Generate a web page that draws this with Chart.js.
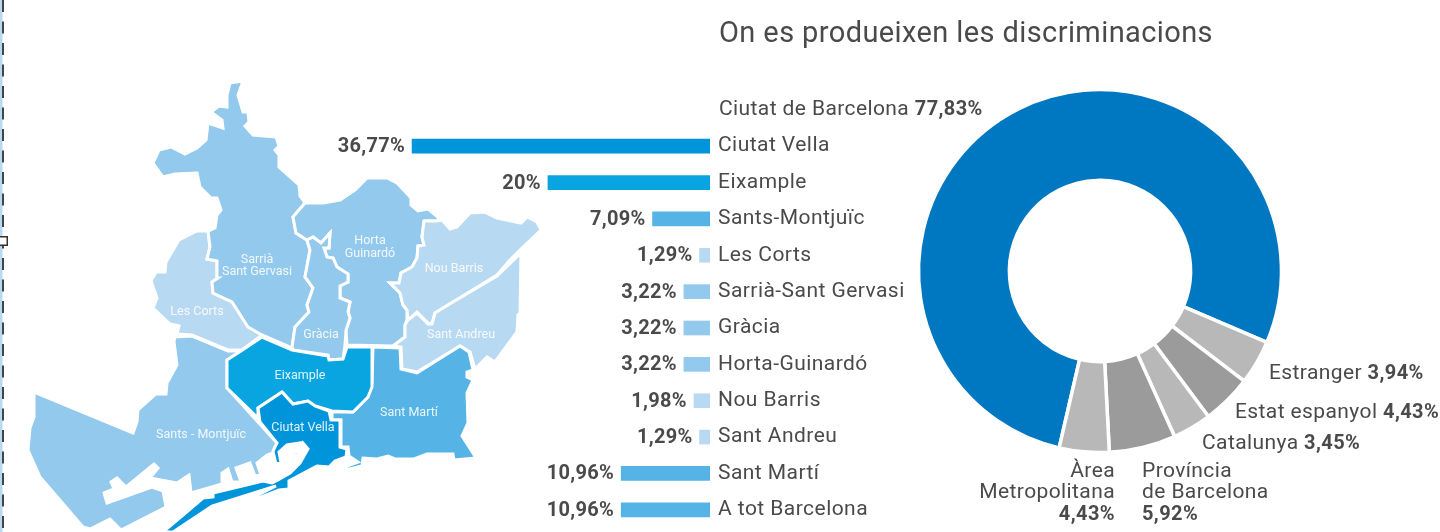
<!DOCTYPE html>
<html lang="ca"><head><meta charset="utf-8">
<script src="https://cdn.jsdelivr.net/npm/chart.js@4"></script>
<style>
html,body{margin:0;padding:0;background:#fff;overflow:hidden}
canvas{position:absolute;display:block}
</style></head><body>
<canvas id="map" width="1440" height="532" style="left:0;top:0"></canvas>
<canvas id="bars" width="610" height="400" style="left:300px;top:128px"></canvas>
<canvas id="donut" width="1440" height="532" style="left:0;top:0"></canvas>
<script>
const titleText = "On es produeixen les discriminacions";
const barCategories = ["Ciutat Vella","Eixample","Sants-Montjuïc","Les Corts","Sarrià-Sant Gervasi","Gràcia","Horta-Guinardó","Nou Barris","Sant Andreu","Sant Martí","A tot Barcelona"];
const barValues = [36.77,20,7.09,1.29,3.22,3.22,3.22,1.98,1.29,10.96,10.96];
const C_CV="#0095da",C_EX="#09a5e0",C_MID="#55b3e6",C_SOFT="#93c9ed",C_PALE="#b8d9f2";
const barColors = [C_CV,C_EX,C_MID,C_PALE,C_SOFT,C_SOFT,C_SOFT,C_PALE,C_PALE,C_MID,C_MID];
const donutLabels = ["Ciutat de Barcelona","Estranger","Estat espanyol","Catalunya","Província de Barcelona","Àrea Metropolitana"];
const donutValues = [77.83,3.94,4.43,3.45,5.92,4.43];
const donutColors = ["#0078c1","#b8b8b8","#9b9b9b","#b8b8b8","#9b9b9b","#b8b8b8"];

const mapSarria=[[230,83],[243,81],[238,95],[243,112],[248,112],[249,122],[245,126],[253,135],[276,137],[279,146],[275,150],[279,155],[279,167],[299,185],[300,196],[305,203],[293,217],[296,233],[307,240],[310,250],[305,277],[313,288],[307,305],[309,312],[295,327],[292,348],[262,335],[248,327],[232,302],[213,293],[212,282],[218,278],[217,261],[207,259],[210,247],[208,231],[215,228],[217,215],[221,210],[217,198],[211,198],[200,187],[197,173],[175,174],[163,177],[153,163],[159,150],[171,147],[185,154],[197,148],[206,140],[208,123],[223,128],[222,120],[211,112],[219,106],[227,107],[227,95]];
const mapCorts=[[208,231],[197,231],[179,240],[166,262],[165,272],[156,272],[151,281],[157,298],[153,308],[170,324],[179,326],[177,334],[192,335],[228,350],[242,350],[262,335],[248,327],[232,302],[213,293],[212,282],[218,278],[217,261],[207,259],[210,247]];
const mapSants=[[175,337],[192,336],[228,351],[241,351],[227,360],[227,388],[277,443],[273,453],[267,455],[257,463],[261,475],[255,476],[250,463],[236,468],[241,482],[232,482],[228,469],[222,473],[222,484],[191,493],[189,475],[177,483],[150,478],[158,468],[154,464],[126,487],[117,478],[111,482],[114,489],[104,493],[107,503],[152,487],[163,491],[166,507],[121,530],[110,519],[90,529],[83,527],[40,477],[28,450],[30,428],[34,417],[34,392],[133,433],[137,422],[138,410],[156,394],[166,394],[167,383],[177,365],[174,342]];
const mapEixample=[[262,337],[292,350],[328,356],[329,360],[343,359],[347,347],[372,347],[372,387],[368,397],[353,412],[332,411],[315,406],[308,401],[293,404],[282,392],[258,408],[258,418],[227,388],[227,360],[241,351]];
const mapCiutatVella=[[282,392],[293,404],[308,401],[315,406],[329,411],[331,420],[340,420],[340,447],[347,449],[346,457],[335,461],[329,467],[317,466],[289,481],[289,489],[279,490],[251,501],[250,499],[276,486],[212,506],[173,532],[163,532],[189,510],[203,498],[213,497],[213,493],[263,481],[272,483],[278,480],[290,473],[300,463],[308,449],[303,443],[298,455],[288,456],[288,453],[296,452],[300,443],[287,445],[279,452],[281,463],[276,464],[273,451],[277,443],[260,422],[258,408]];
const mapGracia=[[307,240],[313,237],[321,243],[330,233],[329,248],[324,248],[327,257],[333,258],[337,267],[348,274],[348,282],[340,286],[340,298],[350,302],[348,312],[350,318],[346,330],[345,345],[343,359],[329,360],[328,355],[293,350],[292,347],[295,327],[309,312],[307,305],[313,288],[305,277],[310,250]];
const mapHorta=[[305,203],[323,203],[340,200],[355,190],[367,178],[387,178],[397,183],[411,198],[411,205],[418,211],[428,209],[439,218],[437,221],[424,221],[422,237],[424,245],[418,246],[417,258],[412,267],[401,273],[399,283],[390,283],[400,293],[403,305],[407,310],[407,320],[405,325],[405,337],[393,346],[347,345],[346,330],[350,318],[348,312],[350,302],[340,298],[340,286],[348,282],[348,274],[337,267],[333,258],[327,257],[324,248],[329,248],[330,233],[321,243],[313,237],[307,240],[296,233],[293,217]];
const mapNouBarris=[[424,221],[437,221],[442,220],[450,229],[457,227],[470,213],[484,212],[497,218],[521,223],[527,217],[537,222],[541,230],[522,248],[510,260],[497,275],[453,302],[435,313],[432,324],[428,323],[417,312],[408,320],[407,310],[403,305],[400,293],[390,283],[399,283],[401,273],[412,267],[417,258],[418,246],[424,245],[422,237]];
const mapSantAndreu=[[417,313],[428,324],[432,324],[435,313],[453,302],[497,276],[521,253],[520,313],[518,315],[517,332],[495,362],[487,357],[475,369],[470,352],[460,346],[417,372],[402,369],[401,347],[393,346],[405,337],[405,325],[408,320]];
const mapSantMarti=[[373,347],[400,348],[401,369],[417,373],[460,346],[469,352],[473,370],[467,372],[467,377],[473,380],[467,393],[468,423],[462,436],[476,458],[454,460],[453,454],[427,454],[414,459],[395,459],[388,456],[377,459],[363,458],[362,466],[345,470],[347,466],[358,462],[349,456],[348,447],[341,447],[341,420],[332,420],[332,412],[353,412],[368,397],[368,387],[372,383]];
const mapNames=[["Sarrià",257,260],["Sant Gervasi",257,272],["Les Corts",197,312],["Gràcia",321,335],["Horta",370,241],["Guinardó",370,254],["Nou Barris",454,269],["Sant Andreu",461,335],["Eixample",300,376],["Sants - Montjuïc",201,435],["Ciutat Vella",303,428],["Sant Martí",409,413]];
const cropEdge=[[1,0],[1,532]], foldEdge=[[3,0],[3,532]], foldMark=[[3,241]];

const FONT='Roboto, "Liberation Sans", sans-serif', INK="#4a4a4a";
function pct(v){return String(v).replace('.',',')+'%';}
function poly(pts,color){
  return {data:pts.concat([pts[0]]).map(p=>({x:p[0],y:p[1]})),backgroundColor:color,borderColor:"#fff",borderWidth:3,
    fill:'shape',showLine:true,tension:0,pointRadius:0,borderJoinStyle:'miter',clip:false};
}
const regions=[[mapSants,C_SOFT],[mapCorts,C_PALE],[mapSarria,C_SOFT],[mapHorta,C_SOFT],[mapGracia,C_SOFT],[mapNouBarris,C_PALE],[mapSantAndreu,C_PALE],[mapSantMarti,C_MID],[mapEixample,C_EX],[mapCiutatVella,C_CV]];
const mapSets=regions.map((r,i)=>Object.assign(poly(r[0],r[1]),{order:100-i}));
mapSets.push({data:cropEdge.map(p=>({x:p[0],y:p[1]})),showLine:true,borderColor:C_PALE,borderWidth:3,pointRadius:0,order:5,clip:false});
mapSets.push({data:foldEdge.map(p=>({x:p[0],y:p[1]})),showLine:true,borderColor:"#444",borderWidth:2,borderDash:[12,9.5],pointRadius:0,order:4,clip:false});
mapSets.push({data:foldMark.map(p=>({x:p[0],y:p[1]})),showLine:false,pointStyle:'rect',pointRadius:6,backgroundColor:"#fff",borderColor:"#333",pointBorderWidth:1.5,order:3,clip:false});

new Chart(document.getElementById('map'),{type:'scatter',data:{datasets:mapSets},
 options:{responsive:false,animation:false,devicePixelRatio:1,layout:{padding:0,autoPadding:false},
  plugins:{legend:{display:false},tooltip:{enabled:false}},
  scales:{x:{type:'linear',min:0,max:1440,display:false},y:{type:'linear',min:0,max:532,reverse:true,display:false}}},
 plugins:[{id:'mapNames',afterDraw(c){const x=c.ctx;x.save();x.fillStyle="rgba(255,255,255,.88)";x.font='12.5px '+FONT;x.textAlign='center';x.textBaseline='middle';
   mapNames.forEach(n=>x.fillText(n[0],n[1],n[2]));x.restore();}}]
});

new Chart(document.getElementById('bars'),{type:'bar',
 data:{labels:barCategories,datasets:[{data:barValues,backgroundColor:barColors,barThickness:14,borderWidth:0}]},
 options:{indexAxis:'y',responsive:false,animation:false,devicePixelRatio:1,layout:{padding:0,autoPadding:false},
  plugins:{legend:{display:false},tooltip:{enabled:false}},
  scales:{x:{type:'linear',reverse:true,min:0,max:50.6,display:false},
   y:{position:'right',afterFit(s){s.width=200;s.paddingTop=0;s.paddingBottom=0;},grid:{display:false,drawTicks:false},border:{display:false},
      ticks:{padding:8,color:INK,font:{family:FONT,size:21},autoSkip:false,crossAlign:'near'}}}},
 plugins:[{id:'spacing',beforeDraw(c){c.ctx.letterSpacing='0.45px';}},
  {id:'barVals',afterDatasetsDraw(c){const x=c.ctx;x.save();x.fillStyle=INK;x.letterSpacing='0.3px';x.font='bold 20px '+FONT;x.textAlign='right';x.textBaseline='middle';
   c.getDatasetMeta(0).data.forEach((el,i)=>x.fillText(pct(barValues[i]),el.x-7,el.y+1));x.restore();}}]
});

function mixed(x,parts,px,y,align){
  x.textBaseline='middle';x.textAlign='left';
  const fonts=parts.map(p=>(p.b?'bold 20px ':'21px ')+FONT);
  let w=0;parts.forEach((p,i)=>{x.font=fonts[i];w+=x.measureText(p.t).width;});
  let cx=align==='right'?px-w:px;
  parts.forEach((p,i)=>{x.font=fonts[i];x.fillText(p.t,cx,y);cx+=x.measureText(p.t).width;});
}
new Chart(document.getElementById('donut'),{type:'doughnut',
 data:{labels:donutLabels,datasets:[{data:donutValues,backgroundColor:donutColors,borderColor:"#fff",borderWidth:3.5,hoverOffset:0}]},
 options:{responsive:false,animation:false,devicePixelRatio:1,rotation:193,radius:181.5,cutout:99,
  layout:{padding:{left:900,right:140,top:71,bottom:61}},
  plugins:{legend:{display:false},tooltip:{enabled:false}}},
 plugins:[{id:'donutText',afterDraw(c){const x=c.ctx;x.save();x.fillStyle=INK;x.letterSpacing='0.4px';
   x.font='29px '+FONT;x.textAlign='left';x.textBaseline='middle';x.fillText(titleText,719,35);
   const L=donutLabels,V=donutValues.map(pct);
   mixed(x,[{t:L[0]+' '},{t:V[0],b:1}],719,110);
   mixed(x,[{t:L[1]+' '},{t:V[1],b:1}],1269,374);
   mixed(x,[{t:L[2]+' '},{t:V[2],b:1}],1235,413);
   mixed(x,[{t:L[3]+' '},{t:V[3],b:1}],1202,444);
   const prov=L[4].split(' '),area=L[5].split(' ');
   mixed(x,[{t:prov[0]}],1142,472);
   mixed(x,[{t:prov.slice(1).join(' ')}],1142,493);
   mixed(x,[{t:V[4],b:1}],1142,515);
   mixed(x,[{t:area[0]}],1115,472,'right');
   mixed(x,[{t:area[1]}],1115,493,'right');
   mixed(x,[{t:V[5],b:1}],1115,515,'right');
   x.restore();}}]
});
</script>
</body></html>
